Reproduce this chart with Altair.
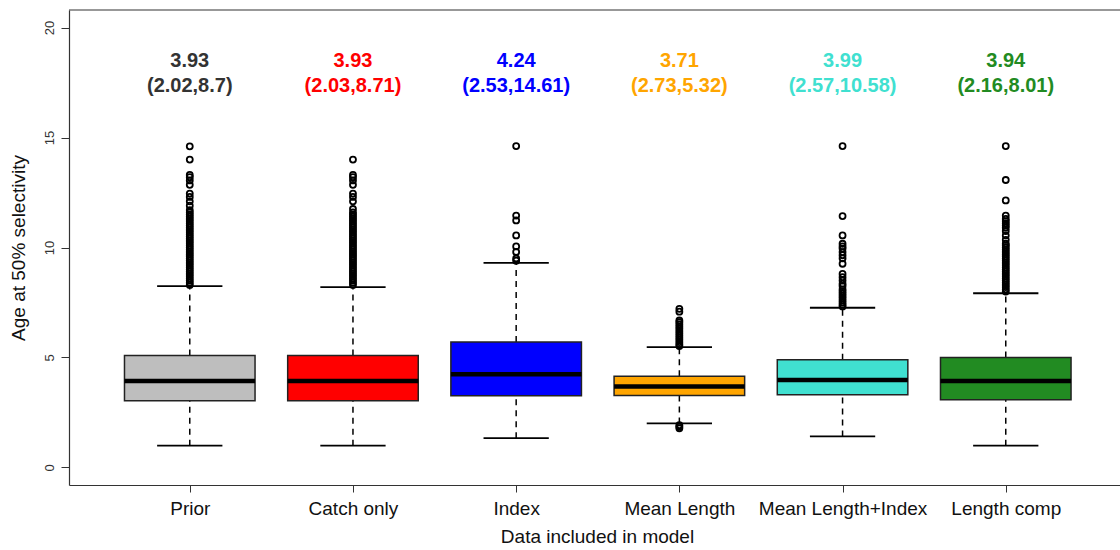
import altair as alt
import pandas as pd

categories = ["Prior", "Catch only", "Index", "Mean Length", "Mean Length+Index", "Length comp"]
fill_colors = ["#BEBEBE", "#FF0000", "#0000FF", "#FFA500", "#40E0D0", "#228B22"]
text_colors = ["#333333", "#FF0000", "#0000FF", "#FFA500", "#40E0D0", "#228B22"]

lower_whisker = [0.99, 0.99, 1.33, 2.00, 1.41, 0.99]
q1 = [3.03, 3.03, 3.26, 3.27, 3.30, 3.08]
median = [3.93, 3.93, 4.24, 3.68, 3.98, 3.93]
q3 = [5.09, 5.09, 5.70, 4.15, 4.89, 5.00]
upper_whisker = [8.24, 8.20, 9.30, 5.47, 7.26, 7.92]

label_median = ["3.93", "3.93", "4.24", "3.71", "3.99", "3.94"]
label_interval = ["(2.02,8.7)", "(2.03,8.71)", "(2.53,14.61)", "(2.73,5.32)", "(2.57,10.58)", "(2.16,8.01)"]

outliers_prior = [14.6, 14.0, 13.3, 13.2, 13.05, 12.85, 12.45, 12.3, 12.1, 11.9, 11.7,
                  11.6, 11.5, 11.4, 11.3, 11.2, 11.1, 11.0, 10.9, 10.8, 10.7, 10.6, 10.5,
                  10.4, 10.3, 10.2, 10.1, 10.0, 9.9, 9.8, 9.7, 9.6, 9.5, 9.4, 9.3, 9.2,
                  9.1, 9.0, 8.9, 8.8, 8.7, 8.6, 8.5, 8.4, 8.3]
outliers_catch = [14.0, 13.3, 13.2, 13.05, 12.85, 12.45, 12.3, 12.1, 11.75,
                  11.6, 11.5, 11.4, 11.3, 11.2, 11.1, 11.0, 10.9, 10.8, 10.7, 10.6, 10.5,
                  10.4, 10.3, 10.2, 10.1, 10.0, 9.9, 9.8, 9.7, 9.6, 9.5, 9.4, 9.3, 9.2,
                  9.1, 9.0, 8.9, 8.8, 8.7, 8.6, 8.5, 8.4, 8.3]
outliers_index = [14.61, 11.45, 11.23, 10.55, 10.05, 9.8, 9.5, 9.4]
outliers_meanlen = [7.21, 7.08, 6.68, 6.6, 6.5, 6.4, 6.3, 6.2, 6.1, 6.0, 5.9, 5.8, 5.7,
                    5.6, 5.52, 1.92, 1.85, 1.78]
outliers_mlindex = [14.61, 11.43, 10.55, 10.17, 10.05, 9.95, 9.79, 9.65, 9.51, 9.26,
                    8.8, 8.65, 8.5, 8.35, 8.25, 8.1, 8.0, 7.9, 7.8, 7.7, 7.6, 7.5, 7.4, 7.32]
outliers_lencomp = [14.61, 13.07, 12.14, 11.45, 11.3, 11.2, 11.1, 11.0, 10.9, 10.75,
                    10.55, 10.35, 10.17, 10.1, 10.0, 9.9, 9.8, 9.7, 9.6, 9.5, 9.4, 9.3,
                    9.2, 9.1, 9.0, 8.9, 8.8, 8.7, 8.6, 8.5, 8.4, 8.3, 8.2, 8.1, 8.0]

outlier_lists = [outliers_prior, outliers_catch, outliers_index,
                 outliers_meanlen, outliers_mlindex, outliers_lencomp]

box_w = 0.4
cap_w = 0.2
W = 1051
H = 475

stats = pd.DataFrame({
    "cat": categories,
    "pos": list(range(1, 7)),
    "fill": fill_colors,
    "tcol": text_colors,
    "lw": lower_whisker,
    "q1": q1,
    "med": median,
    "q3": q3,
    "uw": upper_whisker,
    "lab1": label_median,
    "lab2": label_interval,
})
stats["xl"] = stats["pos"] - box_w
stats["xr"] = stats["pos"] + box_w
stats["cl"] = stats["pos"] - cap_w
stats["cr"] = stats["pos"] + cap_w
stats["ty1"] = 18.5
stats["ty2"] = 17.35

rows = []
for i, lst in enumerate(outlier_lists):
    for v in lst:
        rows.append({"pos": i + 1, "val": v})
outs = pd.DataFrame(rows)

label_expr = "[" + ",".join("'" + c + "'" for c in categories) + "][datum.value - 1]"

xscale = alt.Scale(domain=[0.26, 6.70], nice=False, zero=False)
yscale = alt.Scale(domain=[-0.8, 20.8], nice=False, zero=False)

xaxis = alt.Axis(values=[1, 2, 3, 4, 5, 6], labelExpr=label_expr, title="Data included in model",
                 grid=False, domain=True, domainColor="#333333", domainWidth=1.2,
                 tickSize=7, tickColor="#333333", labelFontSize=19,
                 labelColor="#111111", labelFont="Liberation Sans", titleFont="Liberation Sans",
                 titleFontSize=19, titleFontWeight="normal", titleColor="#111111",
                 labelPadding=7, titlePadding=9, titleX=528, titleAnchor="middle")
yaxis = alt.Axis(values=[0, 5, 10, 15, 20], title="Age at 50% selectivity", grid=False,
                 domain=True, domainColor="#333333", domainWidth=1.2,
                 tickSize=8, tickColor="#333333", labelAngle=270,
                 labelAlign="center", labelBaseline="bottom", labelFontSize=13,
                 labelColor="#333333", labelFont="Liberation Sans", titleFont="Liberation Sans",
                 titleFontSize=19, titleFontWeight="normal", titleColor="#111111",
                 labelPadding=5, titlePadding=15)

base = alt.Chart(stats)

whisk_up = base.mark_rule(color="black", strokeWidth=1.5, strokeDash=[6, 5]).encode(
    x=alt.X("pos:Q", scale=xscale, axis=xaxis),
    y=alt.Y("q3:Q", scale=yscale, axis=yaxis),
    y2="uw:Q",
)
whisk_dn = base.mark_rule(color="black", strokeWidth=1.5, strokeDash=[6, 5]).encode(
    x=alt.X("pos:Q", scale=xscale), y=alt.Y("lw:Q", scale=yscale), y2="q1:Q"
)
cap_up = base.mark_rule(color="black", strokeWidth=1.8).encode(
    x=alt.X("cl:Q", scale=xscale), x2="cr:Q", y=alt.Y("uw:Q", scale=yscale)
)
cap_dn = base.mark_rule(color="black", strokeWidth=1.8).encode(
    x=alt.X("cl:Q", scale=xscale), x2="cr:Q", y=alt.Y("lw:Q", scale=yscale)
)
boxes = base.mark_rect(stroke="#222222", strokeWidth=1.5).encode(
    x=alt.X("xl:Q", scale=xscale), x2="xr:Q",
    y=alt.Y("q1:Q", scale=yscale), y2="q3:Q",
    fill=alt.Fill("fill:N", scale=None),
)
meds = base.mark_rule(color="black", strokeWidth=4.5).encode(
    x=alt.X("xl:Q", scale=xscale), x2="xr:Q", y=alt.Y("med:Q", scale=yscale)
)
points = alt.Chart(outs).mark_point(shape="circle", filled=False, color="black",
                                    size=36, strokeWidth=1.8, opacity=1).encode(
    x=alt.X("pos:Q", scale=xscale), y=alt.Y("val:Q", scale=yscale)
)
txt1 = base.mark_text(fontSize=20, fontWeight="bold", font="Liberation Sans").encode(
    x=alt.X("pos:Q", scale=xscale), y=alt.Y("ty1:Q", scale=yscale),
    text="lab1:N", color=alt.Color("tcol:N", scale=None),
)
txt2 = base.mark_text(fontSize=20, fontWeight="bold", font="Liberation Sans").encode(
    x=alt.X("pos:Q", scale=xscale), y=alt.Y("ty2:Q", scale=yscale),
    text="lab2:N", color=alt.Color("tcol:N", scale=None),
)
top_line = alt.Chart(pd.DataFrame({"a": [0]})).mark_rule(color="#333333", strokeWidth=1.2).encode(
    x=alt.value(0), x2=alt.value(W), y=alt.value(0)
)

chart = alt.layer(whisk_up, whisk_dn, cap_up, cap_dn, boxes, meds, points, txt1, txt2, top_line).properties(
    width=W, height=H,
    autosize=alt.AutoSizeParams(type="none"),
    padding={"left": 69, "top": 10, "right": 0, "bottom": 65},
    background="white",
).configure_view(strokeWidth=0)

chart.save("out.html", embed_options={"renderer": "svg", "actions": False})
